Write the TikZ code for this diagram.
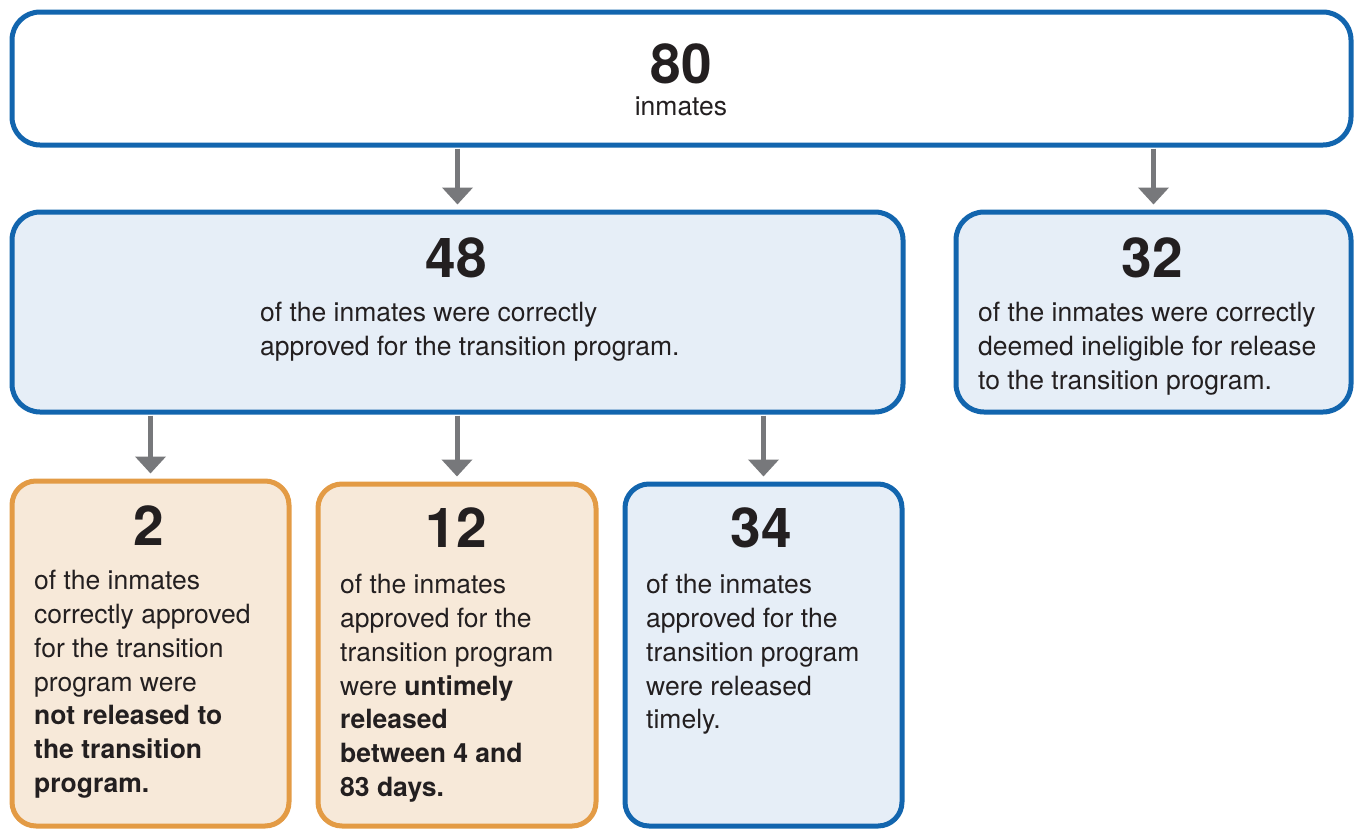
\documentclass[tikz,border=0pt]{standalone}
\usepackage{fontspec}
\setmainfont{TeX Gyre Heros}
\usetikzlibrary{arrows.meta}
\definecolor{bblue}{HTML}{1265AE}
\definecolor{fblue}{HTML}{E6EEF7}
\definecolor{borange}{HTML}{E39B45}
\definecolor{forange}{HTML}{F7E9D9}
\definecolor{agray}{HTML}{77787B}
\definecolor{tdark}{HTML}{231F20}
\tikzset{
  box/.style={draw, line width=5pt, rounded corners=28pt, inner sep=0pt},
  bluebox/.style={box, draw=bblue, fill=fblue},
  orangebox/.style={box, draw=borange, fill=forange},
  num/.style={font=\fontsize{55}{60}\selectfont\bfseries, text=tdark, inner sep=0pt, anchor=center},
  body/.style={font=\fontsize{26.5}{33.8}\selectfont, text=tdark, inner sep=0pt, align=left, anchor=north west},
  arr/.style={draw=agray, line width=5pt, -{Triangle[width=30pt,length=17pt]}, shorten <=1pt, shorten >=5pt},
}
\begin{document}
\begin{tikzpicture}[x=1pt,y=-1pt]
\useasboundingbox (0,0) rectangle (1355,828);
% boxes
\node[box, draw=bblue, fill=white, minimum width=1339pt, minimum height=133pt] (top) at (681.5,78.5) {};
\node[bluebox, minimum width=891pt, minimum height=200pt] (b48) at (457.5,312) {};
\node[bluebox, minimum width=395pt, minimum height=200pt] (b32) at (1153.5,312) {};
\node[orangebox, minimum width=277pt, minimum height=345pt, rounded corners=24pt] (b2) at (150.5,653.5) {};
\node[orangebox, minimum width=278pt, minimum height=342pt, rounded corners=24pt] (b12) at (457,655) {};
\node[bluebox, minimum width=277pt, minimum height=342pt, rounded corners=24pt] (b34) at (763.5,655) {};
% arrows
\draw[arr] (top.south -| b48.north) -- (b48.north);
\draw[arr] (top.south -| b32.north) -- (b32.north);
\draw[arr] (b48.south -| b2.north) -- (b2.north);
\draw[arr] (b48.south -| b12.north) -- (b12.north);
\draw[arr] (b48.south -| b34.north) -- (b34.north);
% texts
\node[num] (t80) at (681,64) {80};
\node[font=\fontsize{26.5}{30}\selectfont, text=tdark, inner sep=0pt, anchor=base] (t80b) at (681,115) {inmates};
\node[num] (t48) at (456,258) {48};
\node[body] (t48b) at (260,302) {of the inmates were correctly\\approved for the transition program.};
\node[num] (t32) at (1152,258) {32};
\node[body] (t32b) at (978,302) {of the inmates were correctly\\deemed ineligible for release\\to the transition program.};
\node[num] (t2) at (149,526) {2};
\node[body] (t2b) at (34,570) {of the inmates\\correctly approved\\for the transition\\program were\\\textbf{not released to}\\\textbf{the transition}\\\textbf{program.}};
\node[num] (t12) at (456,528) {12};
\node[body] (t12b) at (340,574) {of the inmates\\approved for the\\transition program\\were \textbf{untimely}\\\textbf{released}\\\textbf{between 4 and}\\\textbf{83 days.}};
\node[num] (t34) at (761,528) {34};
\node[body] (t34b) at (646,574) {of the inmates\\approved for the\\transition program\\were released\\timely.};
\end{tikzpicture}
\end{document}
